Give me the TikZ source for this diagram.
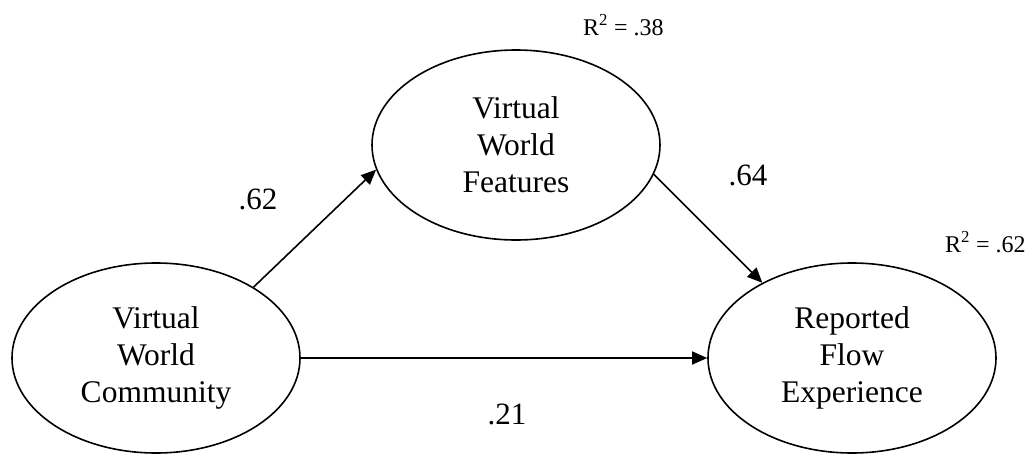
\documentclass[tikz,border=0pt]{standalone}
\usepackage{fontspec}
\setmainfont{Liberation Serif}
\usepackage{tikz}
\usetikzlibrary{arrows.meta, positioning, shapes.geometric}

\begin{document}
\begin{tikzpicture}[
    x=1pt, y=-1pt,
    >={Triangle[length=15pt, width=13pt]},
    latent/.style={draw, ellipse, line width=1.6pt, inner sep=0pt, minimum width=288pt, minimum height=190pt, align=center, font=\fontsize{31.5}{37}\selectfont},
    coef/.style={inner sep=0pt, font=\fontsize{31}{36}\selectfont},
    rsq/.style={inner sep=0pt, anchor=base west, font=\fontsize{24}{28}\selectfont},
    path/.style={->, line width=1.6pt},
]
    \useasboundingbox (0,0) rectangle (1034,455);

    % Constructs
    \node[latent] (vwc) at (156,358) {Virtual\\World\\Community};
    \node[latent] (vwf) at (516,145) {Virtual\\World\\Features};
    \node[latent] (rfe) at (852,358) {Reported\\Flow\\Experience};

    % Explained variance
    \node[rsq] (r2vwf) at (583,35) {R\textsuperscript{2} = .38};
    \node[rsq] (r2rfe) at (945,252) {R\textsuperscript{2} = .62};

    % Paths
    \draw[path] (vwc.36) -- (vwf.190);
    \draw[path] (vwf.348) -- (rfe.140);
    \draw[path] (vwc.east) -- (rfe.west);

    % Path coefficients
    \node[coef] (b1) at (258,199) {.62};
    \node[coef] (b2) at (748,175) {.64};
    \node[coef] (b3) at (507,414) {.21};
\end{tikzpicture}
\end{document}
